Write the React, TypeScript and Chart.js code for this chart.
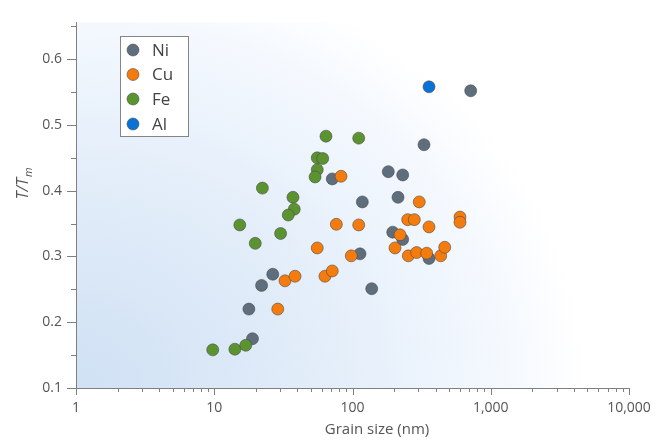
import React, { useEffect, useRef } from 'react';
import { Chart, registerables } from 'chart.js';
Chart.register(...registerables);

const FONT = '"Open Sans", "DejaVu Sans", sans-serif';

const seriesNames = ['Ni', 'Cu', 'Fe', 'Al'];
const seriesColors = ['#5f6e7c', '#f47b0e', '#5b9331', '#0b72d5'];

const niX = [716, 329, 71.4, 181.5, 230.7, 117.8, 213.4, 195.4, 230.7, 113.3, 357.6, 26.5, 22.0, 137.7, 17.8, 18.9];
const niY = [0.552, 0.470, 0.418, 0.429, 0.424, 0.383, 0.390, 0.337, 0.326, 0.304, 0.297, 0.273, 0.256, 0.251, 0.220, 0.175];

const cuX = [82.6, 304, 76.4, 110.9, 250.7, 280, 357.6, 599, 599, 220.6, 203, 253.4, 291, 344, 434.6, 464.5, 55.6, 98, 32.5, 38.4, 63.2, 71.4, 28.8];
const cuY = [0.422, 0.383, 0.349, 0.348, 0.356, 0.356, 0.345, 0.360, 0.352, 0.333, 0.313, 0.301, 0.306, 0.305, 0.301, 0.314, 0.313, 0.301, 0.263, 0.270, 0.270, 0.278, 0.220];

const feX = [64.3, 110.9, 55.6, 60.9, 55.6, 53.6, 22.3, 37.1, 37.9, 34.3, 15.3, 30.2, 19.8, 9.75, 14.1, 16.9];
const feY = [0.483, 0.480, 0.450, 0.449, 0.432, 0.421, 0.404, 0.390, 0.372, 0.363, 0.348, 0.335, 0.320, 0.158, 0.159, 0.165];

const alX = [357.6];
const alY = [0.558];

const xMajorTicks = [1, 10, 100, 1000, 10000];
const yMajorTicks = [0.1, 0.2, 0.3, 0.4, 0.5, 0.6];
const yMinorTicks = [0.15, 0.25, 0.35, 0.45, 0.55, 0.65];

const xTitle = 'Grain size (nm)';

function pts(xs: number[], ys: number[]) {
  return xs.map((x, i) => ({ x, y: ys[i] }));
}

export default function App() {
  const ref = useRef<HTMLCanvasElement>(null);

  useEffect(() => {
    document.body.style.margin = '0';
    const canvas = ref.current;
    if (!canvas) return;

    const bgPlugin = {
      id: 'bgGradient',
      beforeDraw(chart: any) {
        const { ctx, chartArea: a } = chart;
        ctx.save();
        ctx.beginPath();
        ctx.rect(a.left, a.top, a.right - a.left, a.bottom - a.top);
        ctx.clip();
        ctx.translate(a.left, a.bottom);
        ctx.scale(1, 0.86);
        const R = 510;
        const g = ctx.createRadialGradient(0, 0, 0, 0, 0, R);
        g.addColorStop(0, '#cfe1f4');
        g.addColorStop(0.3, '#dbe8f7');
        g.addColorStop(0.6, '#e8f1fb');
        g.addColorStop(0.85, '#f5f9fe');
        g.addColorStop(1, '#ffffff');
        ctx.fillStyle = g;
        ctx.fillRect(-10, -1000, 1000, 1020);
        ctx.restore();
      },
    };

    const decoPlugin = {
      id: 'deco',
      afterDraw(chart: any) {
        const { ctx, chartArea: a, scales } = chart;
        const xs = scales.x;
        const ys = scales.y;
        ctx.save();
        ctx.strokeStyle = '#808080';
        ctx.lineWidth = 1;
        ctx.beginPath();
        for (let d = 0; d <= 4; d++) {
          const base = Math.pow(10, d);
          const px = Math.round(xs.getPixelForValue(base)) + 0.5;
          ctx.moveTo(px, a.bottom);
          ctx.lineTo(px, a.bottom + 7);
          if (d < 4) {
            for (let m = 2; m <= 9; m++) {
              const p = Math.round(xs.getPixelForValue(m * base)) + 0.5;
              ctx.moveTo(p, a.bottom);
              ctx.lineTo(p, a.bottom + 4);
            }
          }
        }
        yMajorTicks.forEach((v) => {
          const py = Math.round(ys.getPixelForValue(v)) + 0.5;
          ctx.moveTo(a.left - 9, py);
          ctx.lineTo(a.left, py);
        });
        yMinorTicks.forEach((v) => {
          const py = Math.round(ys.getPixelForValue(v)) + 0.5;
          ctx.moveTo(a.left - 5, py);
          ctx.lineTo(a.left, py);
        });
        ctx.stroke();

        ctx.fillStyle = '#555';
        ctx.font = `15px ${FONT}`;
        ctx.textAlign = 'center';
        ctx.textBaseline = 'middle';
        ctx.fillText(xTitle, 377, 430);

        ctx.save();
        ctx.translate(23, 184);
        ctx.rotate(-Math.PI / 2);
        ctx.font = `italic 16px ${FONT}`;
        const w1 = ctx.measureText('T/T').width;
        ctx.font = `italic 11px ${FONT}`;
        const w2 = ctx.measureText('m').width;
        const x0 = -(w1 + w2) / 2;
        ctx.textAlign = 'left';
        ctx.font = `italic 16px ${FONT}`;
        ctx.fillText('T/T', x0, 0);
        ctx.font = `italic 11px ${FONT}`;
        ctx.fillText('m', x0 + w1 + 1, 6);
        ctx.restore();

        const lx = 120.5, ly = 36.5, lw = 68, lh = 100;
        ctx.fillStyle = '#ffffff';
        ctx.fillRect(lx, ly, lw, lh);
        ctx.strokeStyle = '#858585';
        ctx.strokeRect(lx, ly, lw, lh);
        const rowY = [50, 74.5, 99, 124];
        chart.data.datasets.forEach((ds: any, i: number) => {
          ctx.beginPath();
          ctx.arc(133, rowY[i], 6, 0, Math.PI * 2);
          ctx.fillStyle = ds.backgroundColor;
          ctx.fill();
          ctx.strokeStyle = 'rgba(70,70,70,0.55)';
          ctx.stroke();
          ctx.fillStyle = '#444';
          ctx.font = `17px ${FONT}`;
          ctx.textAlign = 'left';
          ctx.textBaseline = 'middle';
          ctx.fillText(ds.label, 152, rowY[i] + 1);
        });
        ctx.restore();
      },
    };

    const dataSets = [pts(niX, niY), pts(cuX, cuY), pts(feX, feY), pts(alX, alY)];
    const orders = [3, 2, 1, 0];

    const chart = new Chart(canvas, {
      type: 'scatter',
      data: {
        datasets: dataSets.map((d, i) => ({
          label: seriesNames[i],
          data: d,
          backgroundColor: seriesColors[i],
          borderColor: 'rgba(70,70,70,0.55)',
          borderWidth: 1,
          pointRadius: 6,
          pointHoverRadius: 6,
          order: orders[i],
        })),
      },
      options: {
        animation: false,
        responsive: false,
        devicePixelRatio: 1,
        layout: { padding: { top: 11, right: 39, left: 0, bottom: 0 } },
        plugins: { legend: { display: false }, tooltip: { enabled: false } },
        scales: {
          x: {
            type: 'logarithmic',
            min: 1,
            max: 10000,
            grid: { display: false, drawTicks: false },
            border: { color: '#808080', width: 1 },
            ticks: {
              color: '#555',
              font: { family: FONT, size: 14 },
              padding: 12,
              autoSkip: false,
              maxRotation: 0,
              callback: (v: any) => Number(v).toLocaleString('en-US'),
            },
            afterBuildTicks: (s: any) => {
              s.ticks = xMajorTicks.map((v) => ({ value: v }));
            },
            afterFit: (s: any) => {
              s.height = 54;
            },
          },
          y: {
            type: 'linear',
            min: 0.1,
            max: 0.656,
            grid: { display: false, drawTicks: false },
            border: { color: '#808080', width: 1 },
            ticks: {
              color: '#555',
              font: { family: FONT, size: 14 },
              padding: 14,
              callback: (v: any) => Number(v).toFixed(1),
            },
            afterBuildTicks: (s: any) => {
              s.ticks = yMajorTicks.map((v) => ({ value: v }));
            },
            afterFit: (s: any) => {
              s.width = 76;
            },
          },
        },
      },
      plugins: [bgPlugin, decoPlugin],
    });
    return () => chart.destroy();
  }, []);

  return (
    <div style={{ width: 668, height: 442, position: 'relative' }}>
      <canvas ref={ref} width={668} height={442} style={{ width: 668, height: 442, display: 'block' }} />
    </div>
  );
}
